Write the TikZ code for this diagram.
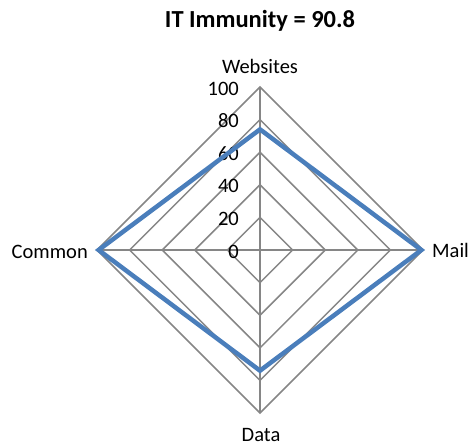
\documentclass[tikz,border=0pt]{standalone}
\usepackage{fontspec}
\setmainfont{Carlito}
\definecolor{gridgray}{RGB}{134,134,134}
\definecolor{serblue}{RGB}{74,126,187}
\begin{document}
\begin{tikzpicture}[x=1pt,y=-1pt,
  grid/.style={draw=gridgray, line width=1.5pt},
  series/.style={draw=serblue, line width=4.5pt, line join=miter},
  lab/.style={font=\fontsize{20.5}{24}\selectfont, inner sep=0pt},
  ticklab/.style={lab, anchor=base east},
  titlelab/.style={font=\fontsize{24.5}{28}\selectfont\bfseries, inner sep=0pt, anchor=base}]
\useasboundingbox (0,0) rectangle (468,445);
\def\cx{260}\def\cy{250}\def\rr{1.63}
\coordinate (O) at (\cx,\cy);
% rings
\foreach \r in {20,40,60,80,100}{
  \coordinate (t\r) at (\cx,\cy-\rr*\r);
  \coordinate (r\r) at (\cx+\rr*\r,\cy);
  \coordinate (b\r) at (\cx,\cy+\rr*\r);
  \coordinate (l\r) at (\cx-\rr*\r,\cy);
  \draw[grid] (t\r) -- (r\r) -- (b\r) -- (l\r) -- cycle;
}
% axes
\draw[grid] (O) -- (t100);
\draw[grid] (O) -- (r100);
\draw[grid] (O) -- (b100);
\draw[grid] (O) -- (l100);
% tick labels
\foreach \r in {0,20,40,60,80,100}{
  \node[ticklab] (tick\r) at (239,\cy-\rr*\r+8) {\r};
}
% series
\coordinate (sW) at (\cx,\cy-\rr*74);
\coordinate (sM) at (\cx+\rr*99,\cy);
\coordinate (sD) at (\cx,\cy+\rr*74);
\coordinate (sC) at (\cx-\rr*99,\cy);
\draw[series] (sW) -- (sM) -- (sD) -- (sC) -- cycle;
% labels
\node[titlelab] (title) at (260,27) {IT Immunity = 90.8};
\node[lab, anchor=base] (websites) at (260,73) {Websites};
\node[lab, anchor=base west] (mail) at (432,257) {Mail};
\node[lab, anchor=base east] (common) at (88,258) {Common};
\node[lab, anchor=base] (data) at (261,441) {Data};
\end{tikzpicture}
\end{document}
